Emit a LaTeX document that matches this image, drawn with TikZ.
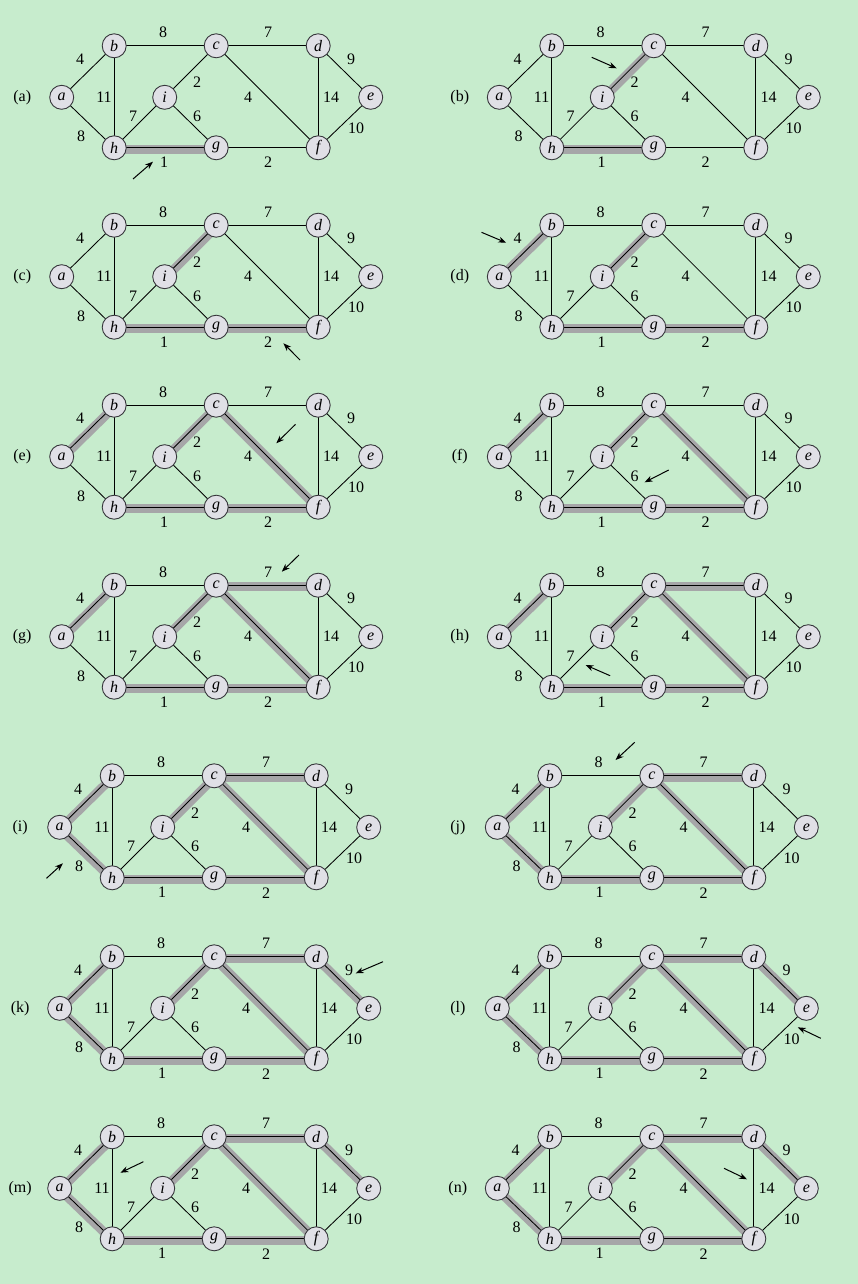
\documentclass[tikz,border=0pt]{standalone}
\usepackage{fontspec}
\setmainfont{Liberation Serif}
\usetikzlibrary{arrows.meta}
\pgfdeclarelayer{back}
\pgfdeclarelayer{bg}
\pgfsetlayers{back,bg,main}
\definecolor{bgc}{RGB}{199,236,205}
\definecolor{vfill}{RGB}{224,224,230}
\definecolor{vline}{RGB}{55,55,60}
\definecolor{band}{RGB}{166,166,168}
\tikzset{
 vtx/.style={circle, draw=vline, fill=vfill, line width=0.9pt, minimum size=24pt, inner sep=0pt, font=\fontsize{16}{16}\selectfont\itshape},
 wlab/.style={font=\fontsize{16}{16}\selectfont, inner sep=0pt},
 plab/.style={font=\fontsize{16}{16}\selectfont, inner sep=0pt},
 edgeln/.style={draw=black, line width=0.85pt},
 mst/.style={draw=band, line width=9pt, transform canvas={xshift=0.3pt,yshift=-1.5pt}},
 pointer/.style={-{Stealth[length=8pt,width=6pt]}, line width=1pt}
}
\newcommand{\kpanel}[5]{%
\begin{scope}[shift={(#1,#2)}]
 \node[vtx] (#3a) at (0,0) {a};
 \node[vtx] (#3b) at (52.5,-51.5) {b};
 \node[vtx] (#3c) at (154.5,-51.5) {c};
 \node[vtx] (#3d) at (256.5,-51.5) {d};
 \node[vtx] (#3e) at (309,0) {e};
 \node[vtx] (#3i) at (103,0) {i};
 \node[vtx] (#3h) at (52.5,50.5) {h};
 \node[vtx] (#3g) at (154.5,50.5) {g};
 \node[vtx] (#3f) at (256.5,50.5) {f};
 \node[plab] (#3lab) at (-39.5,0) {(#4)};
 \node[wlab] (#3wbc) at (101.3,-64.6) {8};
 \node[wlab] (#3wcd) at (206.3,-64.6) {7};
 \node[wlab] (#3wab) at (18.3,-38.3) {4};
 \node[wlab] (#3wde) at (289.3,-38.3) {9};
 \node[wlab] (#3wbh) at (42.3,0) {11};
 \node[wlab] (#3wic) at (135.3,-14.6) {2};
 \node[wlab] (#3wcf) at (186.3,0) {4};
 \node[wlab] (#3wdf) at (269.3,0) {14};
 \node[wlab] (#3whi) at (71.3,19.4) {7};
 \node[wlab] (#3wig) at (135.3,19.4) {6};
 \node[wlab] (#3wah) at (19.3,39.4) {8};
 \node[wlab] (#3wef) at (294.3,30.7) {10};
 \node[wlab] (#3whg) at (102.3,65.4) {1};
 \node[wlab] (#3wgf) at (206.3,65.4) {2};
 \begin{pgfonlayer}{bg}
  \foreach \u/\v in {#5} {\draw[mst] (#3\u.center) -- (#3\v.center);}
  \foreach \u/\v in {a/b,a/h,b/c,b/h,c/d,c/i,c/f,d/e,d/f,e/f,g/f,h/g,h/i,i/g}
   {\draw[edgeln] (#3\u.center) -- (#3\v.center);}
 \end{pgfonlayer}
\end{scope}}
\newcommand{\karrow}[3]{%
 \coordinate (#1s) at (#2);
 \coordinate (#1e) at (#3);
 \draw[pointer] (#1s) -- (#1e);}
\begin{document}
\begin{tikzpicture}[x=1pt,y=-1pt]
\begin{pgfonlayer}{back}
\fill[bgc] (0,0) rectangle (858,1284);
\end{pgfonlayer}
\useasboundingbox (0,0) rectangle (858,1284);
\kpanel{61.7}{97.3}{A}{a}{h/g}
\kpanel{499.3}{97.3}{B}{b}{h/g,i/c}
\kpanel{61.7}{276.7}{C}{c}{h/g,i/c,g/f}
\kpanel{499.3}{276.7}{D}{d}{h/g,i/c,g/f,a/b}
\kpanel{61.7}{456.7}{E}{e}{h/g,i/c,g/f,a/b,c/f}
\kpanel{499.3}{456.7}{F}{f}{h/g,i/c,g/f,a/b,c/f}
\kpanel{61.7}{636.7}{G}{g}{h/g,i/c,g/f,a/b,c/f,c/d}
\kpanel{499.3}{636.7}{H}{h}{h/g,i/c,g/f,a/b,c/f,c/d}
\kpanel{59.7}{827.3}{I}{i}{h/g,i/c,g/f,a/b,c/f,c/d,a/h}
\kpanel{497.3}{827.3}{J}{j}{h/g,i/c,g/f,a/b,c/f,c/d,a/h}
\kpanel{59.7}{1008.3}{K}{k}{h/g,i/c,g/f,a/b,c/f,c/d,a/h,d/e}
\kpanel{497.3}{1008.3}{L}{l}{h/g,i/c,g/f,a/b,c/f,c/d,a/h,d/e}
\kpanel{59.7}{1188.3}{M}{m}{h/g,i/c,g/f,a/b,c/f,c/d,a/h,d/e}
\kpanel{497.3}{1188.3}{N}{n}{h/g,i/c,g/f,a/b,c/f,c/d,a/h,d/e}
\karrow{pA}{133,179}{153,161.7}
\karrow{pB}{591.7,57.3}{616.7,68.3}
\karrow{pC}{300,360}{283.4,343.3}
\karrow{pD}{481.5,232.3}{506.2,242.7}
\karrow{pE}{295.5,424.3}{276.3,443.3}
\karrow{pF}{668.7,470}{644.6,482.3}
\karrow{pG}{299,555}{281.8,571.7}
\karrow{pH}{610.1,675.7}{585.5,665}
\karrow{pI}{46.5,878.3}{62.9,863.3}
\karrow{pJ}{634.7,742.3}{615.6,760}
\karrow{pK}{383,961.7}{355.7,973.3}
\karrow{pL}{820.8,1038.3}{797.8,1027.3}
\karrow{pM}{143.4,1161.7}{120.4,1172.7}
\karrow{pN}{724,1168.3}{747,1179.3}
\end{tikzpicture}
\end{document}
